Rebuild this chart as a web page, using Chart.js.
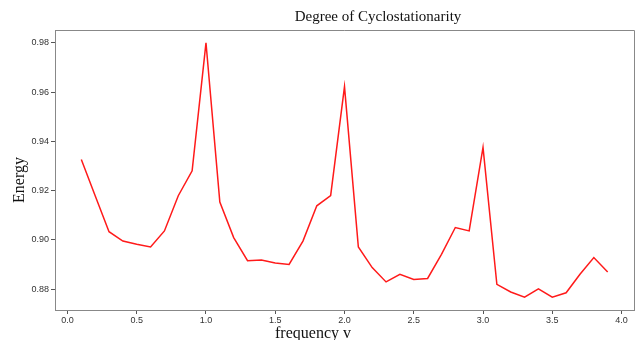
<!DOCTYPE html>
<html>
<head>
<meta charset="utf-8">
<script src="https://cdn.jsdelivr.net/npm/chart.js@4/dist/chart.umd.min.js"></script>
<style>
  html, body { margin: 0; padding: 0; background: #fff; }
  #wrap { width: 643px; height: 340px; }
</style>
</head>
<body>
<div id="wrap"><canvas id="myChart" width="643" height="340"></canvas></div>
<script>
// frequency v and energy
const freqs = [0.1, 0.2, 0.3, 0.4, 0.5, 0.6, 0.7, 0.8, 0.9, 1.0,
               1.1, 1.2, 1.3, 1.4, 1.5, 1.6, 1.7, 1.8, 1.9, 2.0,
               2.1, 2.2, 2.3, 2.4, 2.5, 2.6, 2.7, 2.8, 2.9, 3.0,
               3.1, 3.2, 3.3, 3.4, 3.5, 3.6, 3.7, 3.8, 3.9]
const energy = [0.9326, 0.9179, 0.9033, 0.8995, 0.8982, 0.8971, 0.9036, 0.9179, 0.9280, 0.9800,
                0.9153, 0.9009, 0.8915, 0.8918, 0.8906, 0.8900, 0.8995, 0.9138, 0.9180, 0.9622,
                0.8971, 0.8887, 0.8829, 0.8860, 0.8839, 0.8843, 0.8941, 0.9050, 0.9036, 0.9375,
                0.8819, 0.8788, 0.8767, 0.8801, 0.8767, 0.8785, 0.8860, 0.8928, 0.8869]
const xTicks = [0.0, 0.5, 1.0, 1.5, 2.0, 2.5, 3.0, 3.5, 4.0]
const yTicks = [0.88, 0.90, 0.92, 0.94, 0.96, 0.98]

const spine = '#888'
const tickFont = { family: "'Liberation Sans', Arial, sans-serif", size: 9 }
const serif = "'Liberation Serif', 'Times New Roman', serif"

// matplotlib-like box plus the hand placed titles
const frame = {
    id: 'frame',
    afterDraw(chart) {
        const { ctx, chartArea: a } = chart
        ctx.save()
        ctx.strokeStyle = spine
        ctx.lineWidth = 1
        ctx.beginPath()
        ctx.moveTo(a.left, a.top + 0.5)
        ctx.lineTo(a.right + 0.5, a.top + 0.5)
        ctx.lineTo(a.right + 0.5, a.bottom)
        ctx.stroke()

        ctx.fillStyle = '#111'
        ctx.textAlign = 'center'
        ctx.textBaseline = 'middle'
        ctx.font = `15px ${serif}`
        ctx.fillText('Degree of Cyclostationarity', 378, 17)
        ctx.font = `16px ${serif}`
        ctx.fillText('frequency v', 313, 334)
        ctx.translate(20, 180)
        ctx.rotate(-Math.PI / 2)
        ctx.fillText('Energy', 0, 0)
        ctx.restore()
    }
}

const ctx = document.getElementById('myChart')

new Chart(ctx, {
    type: 'line',
    data: {
        datasets: [{
            data: freqs.map((f, i) => ({ x: f, y: energy[i] })),
            borderColor: '#ff1a1a',
            borderWidth: 1.5,
            pointRadius: 0,
            tension: 0,
            fill: false
        }]
    },
    options: {
        responsive: false,
        animation: false,
        layout: { padding: { left: 0, right: 9, top: 30, bottom: 0 } },
        plugins: {
            legend: { display: false },
            title: { display: false },
            tooltip: { enabled: false }
        },
        scales: {
            x: {
                type: 'linear',
                min: -0.09,
                max: 4.09,
                afterBuildTicks: s => { s.ticks = xTicks.map(v => ({ value: v })) },
                afterFit: s => { s.height = 30 },
                grid: { drawOnChartArea: false, drawTicks: true, tickLength: 4, color: '#555' },
                border: { color: spine, width: 1 },
                ticks: {
                    color: '#333',
                    font: tickFont,
                    padding: 1,
                    maxRotation: 0,
                    callback: v => Number(v).toFixed(1)
                }
            },
            y: {
                min: 0.8715,
                max: 0.9852,
                afterBuildTicks: s => { s.ticks = yTicks.map(v => ({ value: v })) },
                afterFit: s => { s.width = 55 },
                grid: { drawOnChartArea: false, drawTicks: true, tickLength: 4, color: '#555' },
                border: { color: spine, width: 1 },
                ticks: {
                    color: '#333',
                    font: tickFont,
                    padding: 2,
                    callback: v => Number(v).toFixed(2)
                }
            }
        }
    },
    plugins: [frame]
})
</script>
</body>
</html>
